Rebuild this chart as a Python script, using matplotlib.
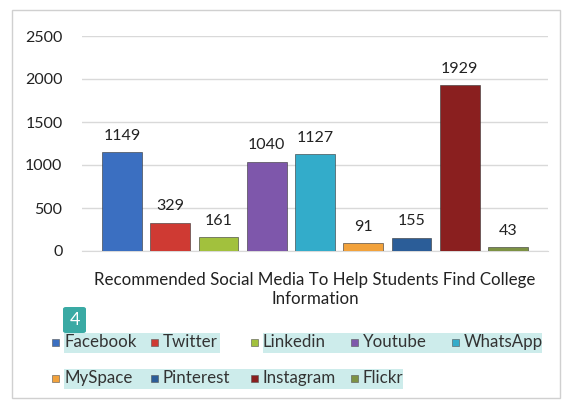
import matplotlib.pyplot as plt
from matplotlib.patches import Rectangle, FancyBboxPatch

plt.rcParams['font.family'] = ['Lato', 'DejaVu Sans']

platforms = ["Facebook", "Twitter", "Linkedin", "Youtube", "WhatsApp",
             "MySpace", "Pinterest", "Instagram", "Flickr"]
counts = [1149, 329, 161, 1040, 1127, 91, 155, 1929, 43]
colors = ["#3b6fc1", "#cf3a33", "#a2c13d", "#7e57ab", "#33acca",
          "#f2a23c", "#2b5d98", "#8a1f1f", "#7d9244"]
yticks = [0, 500, 1000, 1500, 2000, 2500]
xlabel = "Recommended Social Media To Help Students Find College\nInformation"

W, H = 565, 404
fig = plt.figure(figsize=(W / 100, H / 100), dpi=100)
fig.patch.set_facecolor("white")

# outer chart border
fig.add_artist(Rectangle((12 / W, 1 - 398 / H), 548 / W, 388 / H,
                         transform=fig.transFigure, fill=False,
                         edgecolor="#d0d0d0", lw=1))

ax = fig.add_axes([82 / W, 1 - 251 / H, 466 / W, 215 / H])
x = list(range(len(platforms)))
ax.bar(x, counts, width=0.82, color=colors, edgecolor="#333333",
       linewidth=0.4, zorder=3)
for xi, v in zip(x, counts):
    ax.text(xi, v + 110, str(v), ha="center", va="bottom", fontsize=11.5,
            color="#222222")

ax.set_xlim(-0.825, 8.825)
ax.set_ylim(0, 2500)
ax.set_yticks(yticks)
ax.set_xticks([])
ax.grid(axis="y", color="#d9d9d9", lw=1, zorder=0)
for s in ["top", "right", "left"]:
    ax.spines[s].set_visible(False)
ax.spines["bottom"].set_color("#d9d9d9")
ax.tick_params(axis="y", length=0, labelsize=11.5, labelcolor="#222222", pad=14)
ax.set_xlabel(xlabel, fontsize=12.2, color="#222222", labelpad=15,
              linespacing=1.25)

# highlight strips behind legend text
hl = "#cdeceb"
for x0, x1, yc in [(64, 220, 343), (263, 542, 343), (64, 403, 379)]:
    fig.add_artist(Rectangle((x0 / W, 1 - (yc + 10) / H), (x1 - x0) / W, 20 / H,
                             transform=fig.transFigure, facecolor=hl,
                             edgecolor="none"))

# legend drawn in a fixed grid
col_x = [[52, 151, 251, 351, 452], [52, 151, 251, 351]]
row_y = [342, 378]
for i, (name, c) in enumerate(zip(platforms, colors)):
    r, k = divmod(i, 5)
    lx, ly = col_x[r][k], row_y[r]
    fig.add_artist(Rectangle((lx / W, 1 - (ly + 3.5) / H), 7 / W, 7 / H,
                             transform=fig.transFigure, facecolor=c,
                             edgecolor="#555555", lw=0.4))
    fig.text((lx + 12) / W, 1 - ly / H, name, fontsize=12.2, color="#333333",
             va="center", ha="left")

# badge
fig.add_artist(FancyBboxPatch((63 / W, 1 - 333 / H), 23 / W, 26 / H,
                              boxstyle="round,pad=0,rounding_size=0.005",
                              transform=fig.transFigure, facecolor="#3aaaa4",
                              edgecolor="none"))
fig.text(74.5 / W, 1 - 320 / H, "4", color="white", fontsize=13,
         ha="center", va="center")

fig.savefig("out.png", dpi=100)
